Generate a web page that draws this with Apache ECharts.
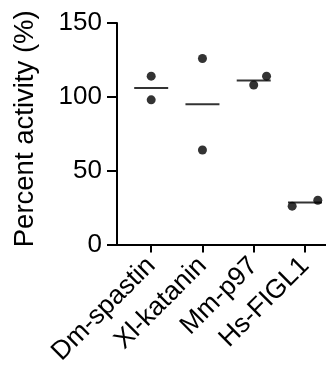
<!DOCTYPE html>
<html>
<head>
<meta charset="utf-8">
<script src="https://cdn.jsdelivr.net/npm/echarts@6/dist/echarts.min.js"></script>
<style>html,body{margin:0;padding:0;background:#fff}#c{width:326px;height:368px}</style>
</head>
<body>
<div id="c"></div>
<script>
const categories = ['Dm-spastin', 'Xl-katanin', 'Mm-p97', 'Hs-FIGL1'];
const replicateA = [114, 126, 108, 26];
const replicateB = [98, 64, 114, 30];
const means = [106, 95, 111, 28.5];
const jitterA = [0, 0, 0, -0.25];
const jitterB = [0, 0, 0.25, 0.25];
const yTicks = [0, 50, 100, 150];

const FONT = '"Liberation Sans", Arial, sans-serif';
const pts = [];
categories.forEach((c, i) => {
  pts.push([i + jitterA[i], replicateA[i]]);
  pts.push([i + jitterB[i], replicateB[i]]);
});
const meanPts = means.map((m, i) => [i, m]);

const chart = echarts.init(document.getElementById('c'), null, {renderer: 'canvas'});
chart.setOption({
  animation: false,
  backgroundColor: '#fff',
  grid: {left: 117, right: 0, top: 23, bottom: 123, containLabel: false},
  xAxis: {
    type: 'value', min: -0.667, max: 3.41,
    splitLine: {show: false},
    axisLine: {show: true, onZero: false, lineStyle: {color: '#000', width: 2}},
    axisTick: {show: true, length: 8, lineStyle: {color: '#000', width: 2}, customValues: [0, 1, 2, 3]},
    axisLabel: {
      customValues: [0, 1, 2, 3], rotate: 45, margin: 17,
      fontSize: 26.5, fontFamily: FONT, color: '#000',
      formatter: v => categories[Math.round(v)]
    }
  },
  yAxis: {
    type: 'value', min: yTicks[0], max: yTicks[yTicks.length - 1], interval: 50,
    splitLine: {show: false},
    axisLine: {show: true, onZero: false, lineStyle: {color: '#000', width: 2}},
    axisTick: {show: true, length: 10, lineStyle: {color: '#000', width: 2}},
    axisLabel: {fontSize: 26, fontFamily: FONT, color: '#000', margin: 15},
    name: 'Percent activity (%)', nameLocation: 'middle', nameGap: 78,
    nameTextStyle: {fontSize: 27.5, fontFamily: FONT, color: '#000', padding: [0, 0, 0, 10]}
  },
  series: [
    {type: 'scatter', data: pts, symbol: 'circle', symbolSize: 9, itemStyle: {color: '#000'}, z: 3},
    {type: 'scatter', data: meanPts, symbol: 'rect', symbolSize: [34, 2], itemStyle: {color: '#000'}, z: 2}
  ]
});
</script>
</body>
</html>
